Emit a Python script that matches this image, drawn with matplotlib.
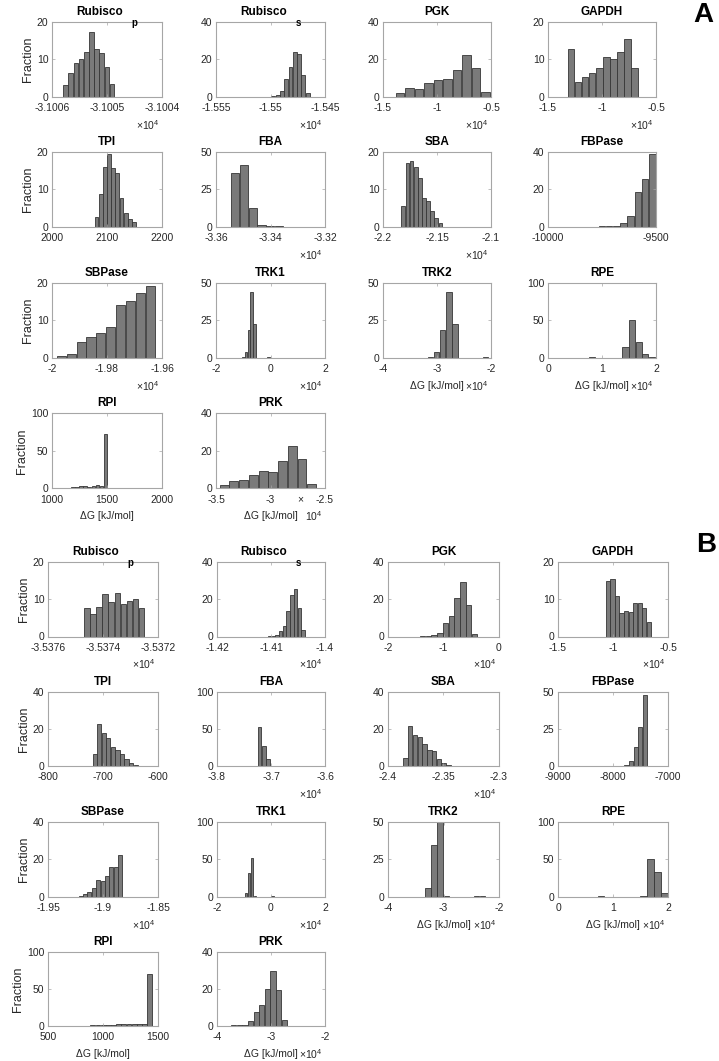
import numpy as np
import matplotlib
matplotlib.use("Agg")
import matplotlib.pyplot as plt

plt.rcParams["font.family"] = ["Liberation Sans", "DejaVu Sans"]
plt.rcParams["mathtext.fontset"] = "custom"
plt.rcParams["mathtext.rm"] = "Liberation Sans"
plt.rcParams["mathtext.bf"] = "Liberation Sans:bold"

W, H = 719, 1061
BAR = "#7a7a7a"; EDGE = "#363636"; AXC = "#a6a6a6"; TXT = "#262626"

# ---- histogram data: (first bin left edge, bin width) + bar heights (Fraction, %)
# x values are in the units printed on each axis (x10^4 where the axis says so)
a_rubp_bins = (-3.10058, 0.0000094); a_rubp = [3.1, 6.2, 8.9, 10.0, 11.8, 17.3, 12.6, 11.6, 7.8, 3.3]
a_rubs_bins = (-1.54994, 0.000394); a_rubs = [0.3, 0.8, 3, 9.5, 16, 24, 23, 11.5, 2]
a_pgk_bins = (-1.387, 0.088); a_pgk = [2, 4.5, 4.3, 7.5, 9, 9.7, 14.5, 22, 15.5, 2.5]
a_gapdh_bins = (-1.319, 0.0653); a_gapdh = [12.7, 4, 5.2, 6.3, 7.7, 10.5, 10, 11.8, 15.5, 7.7]
a_tpi_bins = (2077, 7.6); a_tpi = [2.5, 8.7, 16, 19.4, 15.7, 14.2, 7.6, 3.6, 2.0, 1.2]
a_fba_bins = (-3.35471, 0.00326); a_fba = [35.5, 41, 12.2, 1.1, 0.15, 0.15, 0.1, 0.1, 0.05, 0.1]
a_sba_bins = (-2.1831, 0.00382); a_sba = [5.5, 16.9, 17.5, 16, 12.9, 7.6, 6.9, 4.2, 2.2, 0.9]
a_fbpase_bins = (-9834, 33.4); a_fbpase = [0.05, 0.1, 0.15, 0.2, 0.5, 2.0, 5.5, 18.5, 25.5, 38.6]
a_sbpase_bins = (-1.99841, 0.0036); a_sbpase = [0.5, 0.9, 4.2, 5.5, 6.6, 8.2, 14, 15.2, 17.2, 19]
a_trk1_bins = (-1.05, 0.1025); a_trk1 = [0.5, 4, 18.5, 44, 22.5, 0.1, 0.05, 0.05, 0.1, 0.3]
a_trk2_bins = (-3.18, 0.1137); a_trk2 = [0.5, 4, 18.5, 44, 22.5, 0.05, 0.05, 0.1, 0.1, 0.5]
a_rpe_bins = (0.761, 0.1226); a_rpe = [0.3, 0.05, 0.05, 0.05, 0.05, 14, 50, 20.5, 5, 0.5]
a_rpi_bins = (1025, 37); a_rpi = [0.3, 0.6, 0.8, 1.0, 1.2, 1.5, 2.5, 2.8, 2.2, 3.2, 3.8, 3.0, 72]
a_prk_bins = (-3.469, 0.0892); a_prk = [2, 4, 4.3, 7.3, 9, 8.8, 14.3, 22.5, 15.5, 2.5]

b_rubp_bins = (-3.537469, 0.000022); b_rubp = [7.7, 6, 8, 11.5, 9.3, 11.6, 8.7, 9.5, 10, 7.8]
b_rubs_bins = (-1.4106, 0.000686); b_rubs = [0.2, 0.3, 1, 3, 5.5, 13.5, 22.5, 25.5, 15.5, 3.5]
b_pgk_bins = (-1.428, 0.1036); b_pgk = [0.5, 0.5, 0.6, 1.8, 7.3, 11.3, 20.8, 29.5, 16.8, 1.3]
b_gapdh_bins = (-1.0666, 0.0412); b_gapdh = [15, 15.5, 11, 6.3, 6.8, 6.6, 9, 9, 7.8, 3.8]
b_tpi_bins = (-719.4, 8.3); b_tpi = [6.3, 22.7, 17.8, 15.3, 10.3, 8.5, 6.5, 4, 1.8, 0.4]
b_fba_bins = (-3.7251, 0.00774); b_fba = [53, 27, 9.5, 0.3, 0.2, 0.2, 0.1, 0.1, 0.1, 0.1]
b_sba_bins = (-2.3864, 0.0043); b_sba = [4.5, 21.5, 16.5, 15.5, 11.8, 8.5, 8.2, 3.8, 1.8, 0.6]
b_fbpase_bins = (-8213, 83.5); b_fbpase = [0.05, 0.1, 0.1, 0.1, 0.2, 0.5, 3.5, 12.7, 26.5, 47.5]
b_sbpase_bins = (-1.9222, 0.00396); b_sbpase = [0.5, 1.5, 2.5, 4.8, 8.8, 8.2, 11, 15.7, 15.7, 22.3]
b_trk1_bins = (-0.98, 0.11); b_trk1 = [5, 32, 51.5, 1.5, 0.1, 0.1, 0.05, 0.05, 0.1, 0.4]
b_trk2_bins = (-3.339, 0.11); b_trk2 = [5.5, 34.5, 50, 0.8, 0.05, 0.05, 0.05, 0.1, 0.8, 0.3]
b_rpe_bins = (0.72, 0.128); b_rpe = [0.3, 0.1, 0.05, 0.05, 0.05, 0.1, 1, 50, 32.5, 4.5]
b_rpi_bins = (790, 47); b_rpi = [0.3, 0.5, 0.8, 1.0, 1.2, 1.5, 2.0, 2.2, 2.5, 2.8, 3.0, 3.0, 3.2, 70]
b_prk_bins = (-3.74, 0.1036); b_prk = [0.5, 0.6, 0.8, 2.5, 7.5, 11.5, 20, 29.5, 19.5, 3]

titles = ["Rubisco", "Rubisco", "PGK", "GAPDH", "TPI", "FBA", "SBA", "FBPase",
          "SBPase", "TRK1", "TRK2", "RPE", "RPI", "PRK"]
subs = ["p", "s"] + [""] * 12

# axis setup per panel: xlim, xticks, ymax, x10^4 label
a_axes = [((-3.1006, -3.1004), [-3.1006, -3.1005, -3.1004], 20, True),
          ((-1.555, -1.545), [-1.555, -1.55, -1.545], 40, True),
          ((-1.5, -0.5), [-1.5, -1, -0.5], 40, True),
          ((-1.5, -0.5), [-1.5, -1, -0.5], 20, True),
          ((2000, 2200), [2000, 2100, 2200], 20, False),
          ((-3.36, -3.32), [-3.36, -3.34, -3.32], 50, True),
          ((-2.2, -2.1), [-2.2, -2.15, -2.1], 20, True),
          ((-10000, -9500), [-10000, -9500], 40, False),
          ((-2, -1.96), [-2, -1.98, -1.96], 20, True),
          ((-2, 2), [-2, 0, 2], 50, True),
          ((-4, -2), [-4, -3, -2], 50, True),
          ((0, 2), [0, 1, 2], 100, True),
          ((1000, 2000), [1000, 1500, 2000], 100, False),
          ((-3.5, -2.5), [-3.5, -3, -2.5], 40, "split")]
b_axes = [((-3.5376, -3.5372), [-3.5376, -3.5374, -3.5372], 20, True),
          ((-1.42, -1.40), [-1.42, -1.41, -1.4], 40, True),
          ((-2, 0), [-2, -1, 0], 40, True),
          ((-1.5, -0.5), [-1.5, -1, -0.5], 20, True),
          ((-800, -600), [-800, -700, -600], 40, False),
          ((-3.8, -3.6), [-3.8, -3.7, -3.6], 100, True),
          ((-2.4, -2.3), [-2.4, -2.35, -2.3], 40, True),
          ((-9000, -7000), [-9000, -8000, -7000], 50, False),
          ((-1.95, -1.85), [-1.95, -1.9, -1.85], 40, True),
          ((-2, 2), [-2, 0, 2], 100, True),
          ((-4, -2), [-4, -3, -2], 50, True),
          ((0, 2), [0, 1, 2], 100, True),
          ((500, 1500), [500, 1000, 1500], 100, False),
          ((-4, -2), [-4, -3, -2], 40, True)]

a_data = [(a_rubp_bins, a_rubp), (a_rubs_bins, a_rubs), (a_pgk_bins, a_pgk), (a_gapdh_bins, a_gapdh),
          (a_tpi_bins, a_tpi), (a_fba_bins, a_fba), (a_sba_bins, a_sba), (a_fbpase_bins, a_fbpase),
          (a_sbpase_bins, a_sbpase), (a_trk1_bins, a_trk1), (a_trk2_bins, a_trk2), (a_rpe_bins, a_rpe),
          (a_rpi_bins, a_rpi), (a_prk_bins, a_prk)]
b_data = [(b_rubp_bins, b_rubp), (b_rubs_bins, b_rubs), (b_pgk_bins, b_pgk), (b_gapdh_bins, b_gapdh),
          (b_tpi_bins, b_tpi), (b_fba_bins, b_fba), (b_sba_bins, b_sba), (b_fbpase_bins, b_fbpase),
          (b_sbpase_bins, b_sbpase), (b_trk1_bins, b_trk1), (b_trk2_bins, b_trk2), (b_rpe_bins, b_rpe),
          (b_rpi_bins, b_rpi), (b_prk_bins, b_prk)]

# pixel layout (left, right) / (top, bottom)
A_COLS = [(52, 162), (216, 325), (383, 491), (548, 656)]
A_ROWS = [(21.7, 96.7), (151.7, 226.7), (282.7, 357.7), (413.3, 488.3)]
B_COLS = [(48, 158), (217, 325), (388, 499), (558, 668)]
B_ROWS = [(562.3, 636.5), (691.7, 766), (821.7, 896.7), (952, 1026)]

fig = plt.figure(figsize=(W / 100, H / 100), dpi=100)
fig.patch.set_facecolor("white")


def panel(cols, rows, i, bins, heights, setup):
    (l, r), (t, b) = cols[i % 4], rows[i // 4]
    ax = fig.add_axes([l / W, 1 - b / H, (r - l) / W, (b - t) / H])
    aw, ah = r - l, b - t
    x0, w = bins
    left = x0 + w * np.arange(len(heights))
    ax.bar(left + 0.04 * w, heights, width=0.92 * w, align="edge",
           color=BAR, edgecolor=EDGE, linewidth=0.6)
    xlim, xt, ymax, e4 = setup
    ax.set_xlim(*xlim); ax.set_ylim(0, ymax)
    ax.set_xticks(xt); ax.set_xticklabels([f"{v:g}" for v in xt])
    yt = [0, ymax / 2, ymax]
    ax.set_yticks(yt); ax.set_yticklabels([f"{v:g}" for v in yt])
    ax.tick_params(direction="in", length=2.5, width=0.5, color=AXC, labelcolor=TXT,
                   labelsize=7.5, pad=2.5, top=True, right=True)
    ax.tick_params(axis="x", pad=4.5)
    for s in ax.spines.values():
        s.set_color(AXC); s.set_linewidth(0.8)
    tt = ax.set_title(titles[i], fontsize=8.5, fontweight="bold", pad=5, color="black")
    if subs[i]:
        tt.set_x(0.5 - 7 / aw)
        ax.annotate(subs[i], xy=(1, 0), xycoords=tt, xytext=(6, 0), textcoords="offset points",
                    fontsize=7, fontweight="bold", va="top", ha="left")
    if i % 4 == 0:
        ax.set_ylabel("Fraction", fontsize=9, color=TXT, labelpad=2)
    if i >= 10:
        ax.set_xlabel("ΔG [kJ/mol]", fontsize=7.5, color=TXT)
        ax.xaxis.set_label_coords(0.5, -28 / ah)
        ax.xaxis.label.set_va("center")
    if e4 is True:
        ax.annotate(r"$\times10^{4}$", xy=(1, 0), xycoords="axes fraction", xytext=(-2, -28),
                    textcoords="offset pixels", ha="right", va="center", fontsize=7.5, color=TXT)
    elif e4 == "split":
        ax.annotate("×", xy=(0.77, 0), xycoords="axes fraction", xytext=(0, -11),
                    textcoords="offset pixels", ha="center", va="center", fontsize=7.5, color=TXT)
        ax.annotate(r"$10^{4}$", xy=(1, 0), xycoords="axes fraction", xytext=(-2, -28),
                    textcoords="offset pixels", ha="right", va="center", fontsize=7.5, color=TXT)
    return ax


for i, ((bins, h), setup) in enumerate(zip(a_data, a_axes)):
    panel(A_COLS, A_ROWS, i, bins, h, setup)
for i, ((bins, h), setup) in enumerate(zip(b_data, b_axes)):
    panel(B_COLS, B_ROWS, i, bins, h, setup)

fig.text(703 / W, 1 - 15 / H, "A", fontsize=20, fontweight="bold", ha="center", va="center")
fig.text(706 / W, 1 - 545 / H, "B", fontsize=20, fontweight="bold", ha="center", va="center")

fig.savefig("out.png", dpi=100, facecolor="white")
